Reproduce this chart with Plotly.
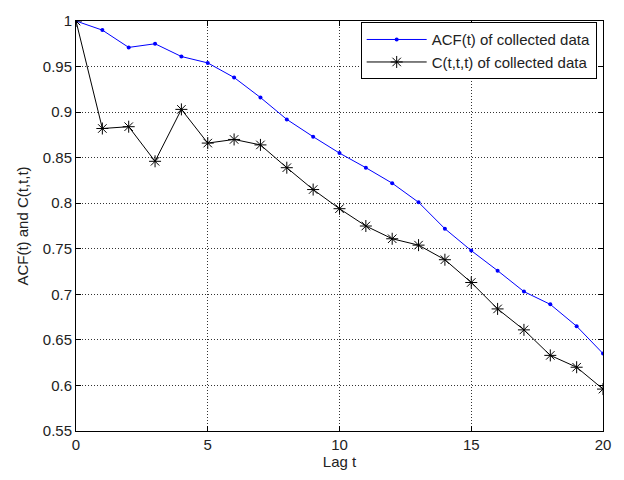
import plotly.graph_objects as go

lags = list(range(21))
acf = [1.000, 0.990, 0.971, 0.975, 0.961, 0.954, 0.938, 0.916, 0.892, 0.873,
       0.855, 0.839, 0.822, 0.801, 0.772, 0.748, 0.726, 0.703, 0.689, 0.665, 0.635]
ctt = [1.000, 0.882, 0.884, 0.846, 0.903, 0.866, 0.870, 0.864, 0.839, 0.815,
       0.794, 0.775, 0.761, 0.754, 0.738, 0.713, 0.684, 0.661, 0.633, 0.620, 0.596]
yticks = [0.55, 0.6, 0.65, 0.7, 0.75, 0.8, 0.85, 0.9, 0.95, 1.0]
ytick_labels = ["0.55", "0.6", "0.65", "0.7", "0.75", "0.8", "0.85", "0.9", "0.95", "1"]
xticks = [0, 5, 10, 15, 20]

font = "Liberation Sans, Arial, sans-serif"

fig = go.Figure()
fig.add_trace(go.Scatter(
    x=lags, y=acf, mode="lines+markers", name="ACF(t) of collected data",
    line=dict(color="#0000ff", width=1),
    marker=dict(symbol="circle", size=4, color="#0000ff"),
))
fig.add_trace(go.Scatter(
    x=lags, y=ctt, mode="lines+markers", name="C(t,t,t) of collected data",
    line=dict(color="#000000", width=1),
    marker=dict(symbol="asterisk-open", size=10, color="#000000",
                line=dict(color="#000000", width=1)),
))

axis_common = dict(
    showline=True, linecolor="black", linewidth=1, mirror="ticks",
    ticks="inside", ticklen=5, tickcolor="black",
    showgrid=True, gridcolor="#333", griddash="1px,2px", gridwidth=1,
    zeroline=False, tickfont=dict(family=font, size=15, color="#222"),
)
fig.update_xaxes(range=[0, 20], tickvals=xticks, **axis_common,
                 title=dict(text="Lag t", font=dict(family=font, size=15, color="#222"), standoff=3))
fig.update_yaxes(range=[0.55, 1.0], tickvals=yticks, ticktext=ytick_labels, **axis_common,
                 title=dict(text="ACF(t) and C(t,t,t)", font=dict(family=font, size=15, color="#222"), standoff=10))

fig.update_layout(
    width=624, height=480,
    margin=dict(l=76, r=21, t=13, b=49),
    paper_bgcolor="white", plot_bgcolor="white",
    showlegend=True,
    legend=dict(x=0.988, y=0.997, xanchor="right", yanchor="top",
                bordercolor="black", borderwidth=1, bgcolor="white",
                font=dict(family=font, size=15, color="#222"),
                tracegroupgap=0, itemwidth=60),
)

fig.write_html("out.html", config={"displayModeBar": False},
               post_script="document.body.style.margin='0';")
